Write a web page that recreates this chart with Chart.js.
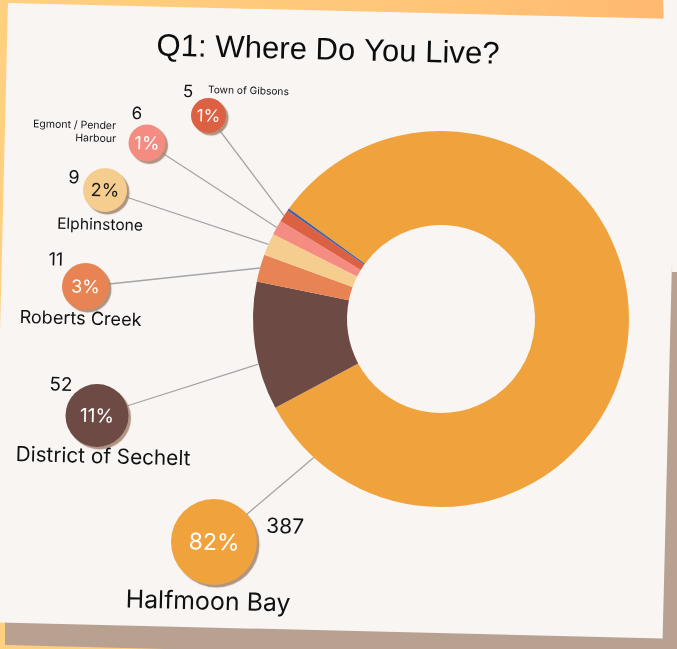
<!DOCTYPE html>
<html>
<head>
<meta charset="utf-8">
<script src="https://cdn.jsdelivr.net/npm/chart.js@4/dist/chart.umd.min.js"></script>
<style>
  html, body { margin:0; padding:0; width:677px; height:649px; overflow:hidden; background:#f9f5f3; }
  .layer { position:absolute; left:0; top:0; width:677px; height:649px; }
  #orange { background:linear-gradient(90deg,#ffd07f 0%,#ffc678 60%,#ffb870 100%);
            clip-path:polygon(0px 0px,663px 0px,672px 260px,677px 649px,0px 649px); }
  #brown  { background:#b8a191; clip-path:polygon(5px 272px,677px 272px,677px 662px,5px 645px); }
  #card   { background:#f9f5f3; clip-path:polygon(8px 3px,678px 19px,662.6px 638.5px,-7px 622.3px); }
  canvas { position:absolute; left:0; top:0; }
</style>
</head>
<body>
<div class="layer" id="orange"></div>
<div class="layer" id="brown"></div>
<div class="layer" id="card"></div>
<canvas id="c" width="677" height="649"></canvas>
<script>
// ---- data ----
const categories    = ["Halfmoon Bay", "District of Sechelt", "Roberts Creek", "Elphinstone", "Egmont / Pender Harbour", "Town of Gibsons", "Other"];
const counts        = [387, 52, 11, 9, 6, 5, 1];
const percentLabels = ["82%", "11%", "3%", "2%", "1%", "1%", ""];
const sliceColors   = ["#f0a33c", "#6e4a45", "#e88453", "#f5cd8e", "#f58c82", "#dc6143", "#44609e"];
const titleText     = "Q1: Where Do You Live?";

// ---- layout (decoration only) ----
const TILT = 1.4 * Math.PI / 180;
const callouts = [
  { i:0, bx:214, by:542, r:43,   pctSize:23, pctColor:"#fff", val:[285,527,21],
    lab:{lines:["Halfmoon Bay"], x:208, y:602, w:165, align:"center"}, lineAt:0.935 },
  { i:1, bx:97,  by:415.5, r:31.5, pctSize:19, pctColor:"#fff", val:[61,385,19],
    lab:{lines:["District of Sechelt"], x:103, y:457, w:175, align:"center"}, lineAt:0.36 },
  { i:2, bx:85.5, by:286.5, r:23.5, pctSize:18, pctColor:"#fff", val:[56,260,18],
    lab:{lines:["Roberts Creek"], x:80.5, y:319, w:122, align:"center"}, lineAt:0.5 },
  { i:3, bx:105, by:190, r:22, pctSize:18, pctColor:"#1a1a1a", val:[74,178,18],
    lab:{lines:["Elphinstone"], x:100, y:225, w:86, align:"center"}, lineAt:0.5 },
  { i:4, bx:147, by:143, r:18.5, pctSize:18, pctColor:"#fff", val:[137,114,17],
    lab:{lines:["Egmont / Pender","Harbour"], x:116, y:126, w:83, align:"right", lh:13}, lineAt:0.5 },
  { i:5, bx:208.5, by:115.5, r:17.5, pctSize:17, pctColor:"#fff", val:[188,92,17],
    lab:{lines:["Town of Gibsons"], x:208, y:90, w:81, align:"left"}, lineAt:0.5 }
];

function tiltedText(ctx, txt, x, y, font, color, align) {
  ctx.save();
  ctx.translate(x, y);
  ctx.rotate(TILT);
  ctx.font = font;
  ctx.fillStyle = color;
  ctx.textAlign = align || "center";
  ctx.textBaseline = "middle";
  ctx.fillText(txt, 0, 0);
  ctx.restore();
}
function fitSize(ctx, txt, family, targetW) {
  ctx.save();
  ctx.font = "20px " + family;
  const w = ctx.measureText(txt).width;
  ctx.restore();
  return 20 * targetW / w;
}

const LABEL_FONT = "Inter, 'Noto Sans', sans-serif";
const TITLE_FONT = "'Liberation Sans', Arial, sans-serif";

const calloutPlugin = {
  id: "callouts",
  afterDatasetsDraw(chart) {
    const ctx = chart.ctx;
    const meta = chart.getDatasetMeta(0);
    // title
    const ts = fitSize(ctx, titleText, TITLE_FONT, 343);
    tiltedText(ctx, titleText, 328, 51, ts + "px " + TITLE_FONT, "#0d0d0d", "center");

    callouts.forEach(c => {
      const arc = meta.data[c.i];
      const p = arc.getProps(["x","y","startAngle","endAngle","outerRadius"], true);
      const a = p.startAngle + c.lineAt * (p.endAngle - p.startAngle);
      const ex = p.x + p.outerRadius * Math.cos(a);
      const ey = p.y + p.outerRadius * Math.sin(a);
      // leader line
      ctx.save();
      ctx.strokeStyle = "#a5a5a5";
      ctx.lineWidth = 1.3;
      ctx.beginPath();
      ctx.moveTo(c.bx, c.by);
      ctx.lineTo(ex, ey);
      ctx.stroke();
      ctx.restore();
      // bubble with shadow
      ctx.save();
      ctx.shadowColor = "rgba(160,130,110,0.85)";
      ctx.shadowOffsetX = 2.5;
      ctx.shadowOffsetY = 2.5;
      ctx.shadowBlur = 1;
      ctx.fillStyle = sliceColors[c.i];
      ctx.beginPath();
      ctx.arc(c.bx, c.by, c.r, 0, Math.PI * 2);
      ctx.fill();
      ctx.restore();
      // percent text
      tiltedText(ctx, percentLabels[c.i], c.bx, c.by + 1, c.pctSize + "px " + LABEL_FONT, c.pctColor, "center");
      // value
      tiltedText(ctx, String(counts[c.i]), c.val[0], c.val[1], c.val[2] + "px " + LABEL_FONT, "#111", "center");
      // label
      const fs = fitSize(ctx, c.lab.lines[0], LABEL_FONT, c.lab.w);
      c.lab.lines.forEach((ln, k) => {
        tiltedText(ctx, ln, c.lab.x, c.lab.y + k * (c.lab.lh || 0), fs + "px " + LABEL_FONT, "#111", c.lab.align);
      });
    });
  }
};

new Chart(document.getElementById("c"), {
  type: "doughnut",
  data: {
    labels: categories,
    datasets: [{ data: counts, backgroundColor: sliceColors, borderWidth: 0, hoverOffset: 0 }]
  },
  options: {
    responsive: false,
    animation: false,
    rotation: 306,
    cutout: "50%",
    layout: { padding: { left: 253, top: 131, right: 48, bottom: 142 } },
    plugins: { legend: { display: false }, tooltip: { enabled: false }, title: { display: false } },
    events: []
  },
  plugins: [calloutPlugin]
});
</script>
</body>
</html>
